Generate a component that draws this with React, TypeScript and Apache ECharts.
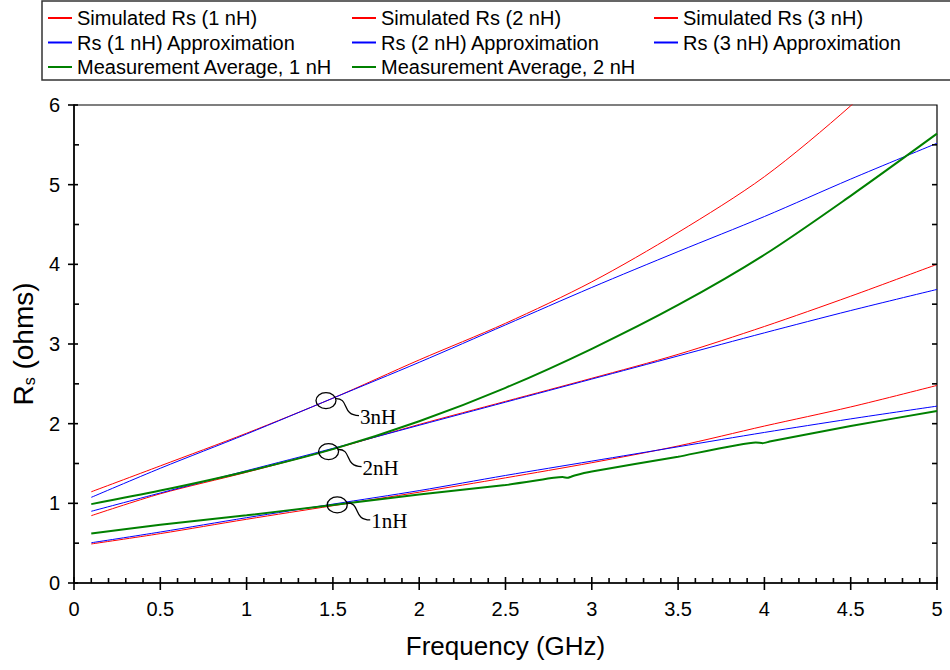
import React, { useEffect, useRef } from "react";
import * as echarts from "echarts";

// Frequency grid (GHz) for the smooth curves
const freq = [0.1, 0.5, 1, 1.5, 2, 2.5, 3, 3.5, 4, 4.5, 5];

// Simulated Rs (ohms)
const sim1 = [0.49, 0.62, 0.8, 0.97, 1.14, 1.32, 1.51, 1.72, 1.97, 2.21, 2.48];
const sim2 = [0.845, 1.12, 1.39, 1.68, 1.99, 2.28, 2.57, 2.87, 3.22, 3.6, 4.0];
const sim3 = [1.145, 1.47, 1.88, 2.32, 2.8, 3.26, 3.78, 4.4, 5.1, 5.99, 7.0];

// Approximations
const approx1 = [0.505, 0.64, 0.82, 0.99, 1.16, 1.35, 1.53, 1.71, 1.89, 2.06, 2.22];
const approx2 = [0.9, 1.13, 1.41, 1.69, 1.98, 2.27, 2.56, 2.85, 3.14, 3.42, 3.685];
const approx3 = [1.075, 1.44, 1.87, 2.32, 2.77, 3.24, 3.71, 4.16, 4.6, 5.07, 5.52];

// Measurement averages
const meas1Freq = [0.1, 0.5, 1, 1.5, 2, 2.5, 2.78, 2.83, 2.86, 2.9, 3, 3.5, 3.95, 3.99, 4.03, 4.5, 5];
const meas1 = [0.62, 0.73, 0.85, 0.98, 1.11, 1.23, 1.32, 1.33, 1.32, 1.35, 1.4, 1.585, 1.765, 1.755, 1.775, 1.97, 2.16];
const meas2 = [0.99, 1.16, 1.4, 1.68, 2.03, 2.45, 2.94, 3.49, 4.12, 4.86, 5.64];

// Annotation anchors (data coords) and labels
const annoLabels = ["3nH", "2nH", "1nH"];
const annoPoints: number[][] = [
  [1.46, 2.29],
  [1.475, 1.65],
  [1.525, 0.98],
];

// Axis scales and tick steps
const xTicks = { min: 0, max: 5, interval: 0.5 };
const yTicks = { min: 0, max: 6, interval: 1 };
const xMinorStep = 0.1;
const yMinorStep = 0.5;

const RED = "#ff0000";
const BLUE = "#0000ff";
const GREEN = "#008000";
const SANS = '"Liberation Sans", Arial, sans-serif';
const SERIF = '"Liberation Serif", "Times New Roman", serif';

const pairs = (xs: number[], ys: number[]) => xs.map((x, i) => [x, ys[i]]);

// tick rows: [axis(0=x,1=y), value, isMajor]
const tickRows: number[][] = [];
{
  const nX = Math.round((xTicks.max - xTicks.min) / xMinorStep);
  const xe = Math.round(xTicks.interval / xMinorStep);
  for (let i = 0; i <= nX; i++) tickRows.push([0, +(xTicks.min + i * xMinorStep).toFixed(4), i % xe === 0 ? 1 : 0]);
  const nY = Math.round((yTicks.max - yTicks.min) / yMinorStep);
  const ye = Math.round(yTicks.interval / yMinorStep);
  for (let i = 0; i <= nY; i++) tickRows.push([1, +(yTicks.min + i * yMinorStep).toFixed(4), i % ye === 0 ? 1 : 0]);
}

export default function App() {
  const ref = useRef<HTMLDivElement>(null);
  useEffect(() => {
    if (!ref.current) return;
    const chart = echarts.init(ref.current, undefined, { renderer: "svg" });

    const mk = (name: string, data: number[][], color: string, width: number, smooth: number) => ({
      name,
      type: "line",
      data,
      showSymbol: false,
      symbol: "none",
      smooth,
      clip: true,
      lineStyle: { color, width },
      itemStyle: { color },
    });

    const legendCommon = {
      orient: "vertical",
      top: 8,
      padding: 0,
      itemGap: 4.5,
      itemWidth: 24,
      itemHeight: 2,
      icon: "rect",
      selectedMode: false,
      textStyle: { fontSize: 20, fontFamily: SANS, color: "#000", lineHeight: 20 },
    };

    const tickStyle = { stroke: "#000", lineWidth: 1.6 };

    const option: any = {
      animation: false,
      backgroundColor: "#fff",
      grid: {
        left: 74,
        right: 13,
        top: 105,
        bottom: 87,
        show: true,
        borderColor: "#000",
        borderWidth: 1.2,
        backgroundColor: "transparent",
      },
      legend: [
        { ...legendCommon, left: 48, data: ["Simulated Rs (1 nH)", "Rs (1 nH) Approximation", "Measurement Average, 1 nH"] },
        { ...legendCommon, left: 352, data: ["Simulated Rs (2 nH)", "Rs (2 nH) Approximation", "Measurement Average, 2 nH"] },
        { ...legendCommon, left: 654, data: ["Simulated Rs (3 nH)", "Rs (3 nH) Approximation"] },
      ],
      xAxis: {
        type: "value",
        position: "bottom",
        ...xTicks,
        name: "Frequency (GHz)",
        nameLocation: "middle",
        nameGap: 50,
        nameTextStyle: { fontSize: 26, fontFamily: SANS, color: "#000" },
        axisLine: { show: true, onZero: false, lineStyle: { color: "#000", width: 1.5 } },
        axisTick: { show: false },
        axisLabel: { fontSize: 20, fontFamily: SANS, color: "#000", margin: 16 },
        splitLine: { show: false },
      },
      yAxis: {
        type: "value",
        position: "left",
        ...yTicks,
        name: "{a|R}{b|s}{a| (ohms)}",
        nameLocation: "middle",
        nameGap: 36,
        nameRotate: 90,
        nameTextStyle: {
          fontFamily: SANS,
          color: "#000",
          rich: {
            a: { fontSize: 28, fontFamily: SANS, color: "#000" },
            b: { fontSize: 16, fontFamily: SANS, color: "#000", verticalAlign: "bottom", padding: [9, 0, 0, 0] },
          },
        },
        axisLine: { show: true, onZero: false, lineStyle: { color: "#000", width: 1.5 } },
        axisTick: { show: false },
        axisLabel: { fontSize: 20, fontFamily: SANS, color: "#000", margin: 14 },
        splitLine: { show: false },
      },
      series: [
        mk("Simulated Rs (1 nH)", pairs(freq, sim1), RED, 1, 0.3),
        mk("Simulated Rs (2 nH)", pairs(freq, sim2), RED, 1, 0.3),
        mk("Simulated Rs (3 nH)", pairs(freq, sim3), RED, 1, 0.3),
        mk("Rs (1 nH) Approximation", pairs(freq, approx1), BLUE, 1, 0.3),
        mk("Rs (2 nH) Approximation", pairs(freq, approx2), BLUE, 1, 0.3),
        mk("Rs (3 nH) Approximation", pairs(freq, approx3), BLUE, 1, 0.3),
        mk("Measurement Average, 1 nH", pairs(meas1Freq, meas1), GREEN, 2, 0.15),
        mk("Measurement Average, 2 nH", pairs(freq, meas2), GREEN, 2, 0.3),
        {
          name: "ticks",
          type: "custom",
          silent: true,
          clip: false,
          z: 10,
          data: tickRows,
          encode: { x: -1, y: -1 },
          renderItem: (params: any, api: any) => {
            const axis = api.value(0);
            const v = api.value(1);
            const major = api.value(2) === 1;
            const children: any[] = [];
            if (axis === 0) {
              const p = api.coord([v, yTicks.min]);
              if (major) children.push({ type: "line", shape: { x1: p[0], y1: p[1] - 6, x2: p[0], y2: p[1] + 7 }, style: tickStyle });
              else children.push({ type: "line", shape: { x1: p[0], y1: p[1] - 5, x2: p[0], y2: p[1] }, style: tickStyle });
            } else {
              const pl = api.coord([xTicks.min, v]);
              const pr = api.coord([xTicks.max, v]);
              if (major) children.push({ type: "line", shape: { x1: pl[0] - 6, y1: pl[1], x2: pl[0] + 4, y2: pl[1] }, style: tickStyle });
              else children.push({ type: "line", shape: { x1: pl[0], y1: pl[1], x2: pl[0] + 5, y2: pl[1] }, style: tickStyle });
              if (v > yTicks.min && v < yTicks.max)
                children.push({ type: "line", shape: { x1: pr[0] - 5, y1: pr[1], x2: pr[0], y2: pr[1] }, style: tickStyle });
            }
            return { type: "group", children };
          },
        },
      ],
    };

    chart.setOption(option);

    const px = (x: number, y: number) => chart.convertToPixel({ xAxisIndex: 0, yAxisIndex: 0 }, [x, y]) as number[];
    const graphics: any[] = [
      {
        type: "rect",
        shape: { x: 42, y: 1, width: 940, height: 79 },
        style: { fill: "none", stroke: "#333", lineWidth: 1.5 },
        z: 100,
        silent: true,
      },
    ];

    annoPoints.forEach((p, i) => {
      const c = px(p[0], p[1]);
      const cx = c[0];
      const cy = c[1];
      graphics.push(
        {
          type: "ellipse",
          shape: { cx, cy, rx: 10, ry: 8 },
          style: { fill: "none", stroke: "#000", lineWidth: 1.3 },
          z: 100,
          silent: true,
        },
        {
          type: "bezierCurve",
          shape: { x1: cx + 9, y1: cy - 2, cpx1: cx + 24, cpy1: cy - 3, cpx2: cx + 15, cpy2: cy + 15, x2: cx + 33, y2: cy + 15 },
          style: { fill: "none", stroke: "#000", lineWidth: 1.3 },
          z: 100,
          silent: true,
        },
        {
          type: "text",
          x: cx + 34,
          y: cy + 16,
          style: { text: annoLabels[i], fontSize: 21, fontFamily: SERIF, fill: "#000", verticalAlign: "middle", align: "left" },
          z: 100,
          silent: true,
        }
      );
    });
    chart.setOption({ graphic: graphics });

    return () => chart.dispose();
  }, []);

  return <div ref={ref} style={{ position: "absolute", left: 0, top: 0, width: 950, height: 670 }} />;
}
